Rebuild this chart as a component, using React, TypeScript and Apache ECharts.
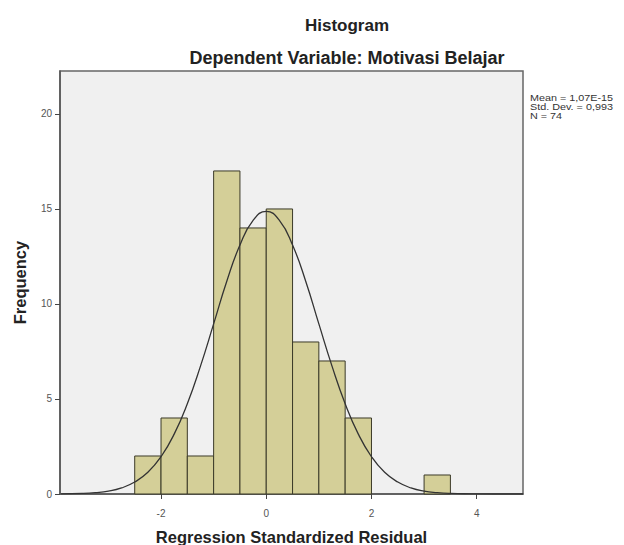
import React, { useEffect, useRef } from "react";
import * as echarts from "echarts";

const binStarts = [-2.5, -2, -1.5, -1, -0.5, 0, 0.5, 1, 1.5, 3];
const binEnds = [-2, -1.5, -1, -0.5, 0, 0.5, 1, 1.5, 2, 3.5];
const counts = [2, 4, 2, 17, 14, 15, 8, 7, 4, 1];

const curveX = [-3.9, -3.5, -3.25, -3, -2.75, -2.5, -2.25, -2, -1.75, -1.5, -1.25, -1, -0.75, -0.5, -0.25, 0,
  0.25, 0.5, 0.75, 1, 1.25, 1.5, 1.75, 2, 2.25, 2.5, 2.75, 3, 3.25, 3.5, 3.9, 4.3, 4.88];
const curveY = [0.01, 0.03, 0.07, 0.15, 0.32, 0.63, 1.14, 1.96, 3.15, 4.75, 6.73, 8.95, 11.2, 13.1, 14.4, 14.87,
  14.4, 13.1, 11.2, 8.95, 6.73, 4.75, 3.15, 1.96, 1.14, 0.63, 0.32, 0.15, 0.07, 0.03, 0.01, 0.0, 0.0];

const xTicks = [-2, 0, 2, 4];
const yTicks = [0, 5, 10, 15, 20];

const titleText = "Histogram";
const subtitleText = "Dependent Variable: Motivasi Belajar";
const statsLines = ["Mean = 1,07E-15", "Std. Dev. = 0,993", "N = 74"];
const xName = "Regression Standardized Residual";
const yName = "Frequency";

const FONT = "'Liberation Sans', Arial, sans-serif";

export default function App() {
  const ref = useRef<HTMLDivElement>(null);
  useEffect(() => {
    if (!ref.current) return;
    const chart = echarts.init(ref.current, null, { renderer: "svg" });
    const bars = binStarts.map((s, i) => [s, binEnds[i], counts[i]]);
    const curve = curveX.map((x, i) => [x, curveY[i]]);
    chart.setOption({
      animation: false,
      backgroundColor: "#ffffff",
      grid: {
        left: 60,
        right: 101,
        top: 71,
        bottom: 51,
        outerBoundsMode: "none",
        containLabel: false,
        show: true,
        backgroundColor: "#f0f0f0",
        borderColor: "#666666",
        borderWidth: 1.5,
      },
      graphic: [
        {
          type: "text",
          x: 347,
          y: 25,
          style: {
            text: titleText,
            align: "center",
            verticalAlign: "middle",
            font: `bold 17px ${FONT}`,
            fill: "#222",
          },
        },
        {
          type: "text",
          x: 347,
          y: 58,
          style: {
            text: subtitleText,
            align: "center",
            verticalAlign: "middle",
            font: `bold 18px ${FONT}`,
            fill: "#222",
          },
        },
        {
          type: "text",
          x: 530,
          y: 93,
          scaleX: 1.2,
          style: {
            text: statsLines.join("\n"),
            align: "left",
            verticalAlign: "top",
            font: `9px ${FONT}`,
            lineHeight: 9,
            fill: "#333",
          },
        },
      ],
      xAxis: {
        type: "value",
        min: -3.92,
        max: 4.88,
        name: xName,
        nameLocation: "middle",
        nameGap: 34,
        nameTextStyle: {
          fontWeight: "bold",
          fontSize: 16.5,
          color: "#222",
          fontFamily: FONT,
        },
        splitLine: { show: false },
        axisLine: { show: true, onZero: false, lineStyle: { color: "#555", width: 1.5 } },
        axisTick: {
          show: true,
          length: 5,
          customValues: xTicks,
          lineStyle: { color: "#444", width: 1 },
        },
        axisLabel: {
          customValues: xTicks,
          margin: 14,
          fontSize: 10,
          color: "#555",
          fontFamily: FONT,
        },
      },
      yAxis: {
        type: "value",
        min: 0,
        max: 22.26,
        name: yName,
        nameLocation: "middle",
        nameGap: 32,
        nameRotate: 90,
        nameTextStyle: {
          fontWeight: "bold",
          fontSize: 16.5,
          color: "#222",
          fontFamily: FONT,
        },
        splitLine: { show: false },
        axisLine: { show: true, onZero: false, lineStyle: { color: "#555", width: 1.5 } },
        axisTick: {
          show: true,
          length: 5,
          customValues: yTicks,
          lineStyle: { color: "#444", width: 1 },
        },
        axisLabel: {
          customValues: yTicks,
          margin: 8,
          fontSize: 10,
          color: "#555",
          fontFamily: FONT,
        },
      },
      series: [
        {
          type: "custom",
          data: bars,
          encode: { x: [0, 1], y: 2 },
          z: 2,
          renderItem: (params: any, api: any) => {
            const x0 = api.value(0);
            const x1 = api.value(1);
            const c = api.value(2);
            const p0 = api.coord([x0, c]);
            const p1 = api.coord([x1, 0]);
            return {
              type: "rect",
              shape: { x: p0[0], y: p0[1], width: p1[0] - p0[0], height: p1[1] - p0[1] },
              style: { fill: "#d4cf98", stroke: "#3b3a28", lineWidth: 1 },
            };
          },
        },
        {
          type: "line",
          data: curve,
          smooth: true,
          showSymbol: false,
          symbol: "none",
          z: 3,
          lineStyle: { color: "#333333", width: 1.3 },
        },
      ],
    });
    return () => chart.dispose();
  }, []);
  return (
    <div
      ref={ref}
      style={{ position: "fixed", left: 0, top: 0, width: 624, height: 545 }}
    />
  );
}
